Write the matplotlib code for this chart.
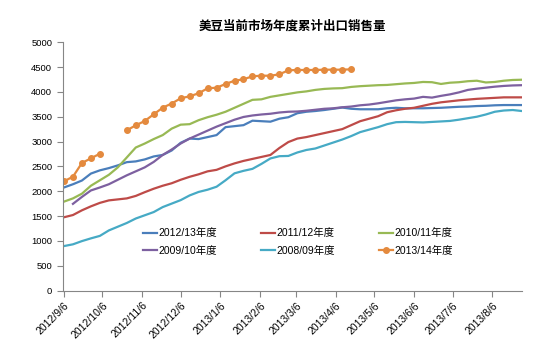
import numpy as np
import pandas as pd
import matplotlib
matplotlib.use("Agg")
import matplotlib.pyplot as plt
import matplotlib.dates as mdates
from matplotlib.ticker import FuncFormatter

plt.rcParams['font.family'] = ['Liberation Sans', 'Noto Sans CJK SC']

# 每周累计出口销售量（万吨），市场年度自9月起
weeks = pd.date_range('2012-09-06', periods=52, freq='7D')

s2012 = [2075, 2140, 2215, 2355, 2420, 2465, 2520, 2585, 2600, 2640, 2700, 2730, 2820,
         2975, 3060, 3050, 3090, 3130, 3290, 3310, 3330, 3420, 3410, 3400, 3460, 3490,
         3570, 3600, 3615, 3635, 3660, 3685, 3660, 3650, 3650, 3650, 3670, 3680, 3670,
         3670, 3670, 3675, 3680, 3690, 3700, 3705, 3715, 3720, 3730, 3735, 3735, 3735]
s2011 = [1475, 1520, 1615, 1695, 1765, 1815, 1835, 1855, 1905, 1980, 2050, 2110, 2160,
         2230, 2290, 2340, 2400, 2430, 2500, 2560, 2610, 2650, 2690, 2730, 2870, 2990,
         3060, 3090, 3130, 3170, 3210, 3250, 3330, 3410, 3460, 3510, 3590, 3630, 3660,
         3680, 3720, 3760, 3790, 3810, 3830, 3845, 3860, 3870, 3880, 3890, 3890, 3890]
s2010 = [1790, 1855, 1950, 2110, 2220, 2330, 2480, 2680, 2880, 2960, 3050, 3130, 3260,
         3340, 3350, 3430, 3490, 3540, 3600, 3680, 3760, 3840, 3850, 3900, 3930, 3960,
         3990, 4010, 4040, 4060, 4070, 4075, 4100, 4115, 4125, 4135, 4140, 4155, 4170,
         4180, 4200, 4195, 4160, 4185, 4195, 4215, 4225, 4190, 4200, 4225, 4240, 4245]
s2009 = [None, 1745, 1885, 2015, 2075, 2140, 2230, 2320, 2400, 2480, 2590, 2730, 2840,
         2960, 3060, 3140, 3220, 3300, 3370, 3440, 3495, 3525, 3545, 3560, 3585, 3600,
         3605, 3620, 3640, 3660, 3670, 3690, 3705, 3730, 3745, 3770, 3800, 3830, 3850,
         3865, 3900, 3885, 3920, 3950, 3990, 4040, 4065, 4085, 4105, 4120, 4130, 4135]
s2008 = [895, 930, 995, 1050, 1100, 1210, 1285, 1360, 1450, 1515, 1580, 1680, 1750,
         1820, 1915, 1985, 2030, 2090, 2220, 2360, 2410, 2450, 2550, 2660, 2705, 2710,
         2780, 2830, 2860, 2920, 2980, 3040, 3110, 3190, 3240, 3290, 3350, 3390, 3395,
         3390, 3385, 3395, 3405, 3415, 3440, 3470, 3500, 3545, 3600, 3625, 3635, 3615]
# 2013/14年度（10月政府停摆期间两周无数据）
s2013 = [2199, 2292, 2568, 2662, 2755, None, None, 3226, 3327, 3414, 3549, 3682, 3766,
         3871, 3911, 3972, 4072, 4084, 4159, 4225, 4254, 4314, 4326, 4326, 4354, 4435,
         4441, 4441, 4441, 4447, 4447, 4447, 4455]

def arr(v):
    return np.array([np.nan if x is None else x for x in v], dtype=float)

fig = plt.figure(figsize=(5.39, 3.52), dpi=100)
ax = fig.add_axes([0.1163, 0.1747, 0.968 - 0.1163, 0.880 - 0.1747])

lw = 1.6
l1, = ax.plot(weeks, arr(s2012), color='#4A7EBB', lw=lw, label='2012/13年度')
l2, = ax.plot(weeks, arr(s2011), color='#BE4B48', lw=lw, label='2011/12年度')
l3, = ax.plot(weeks, arr(s2010), color='#98B954', lw=lw, label='2010/11年度')
l4, = ax.plot(weeks, arr(s2009), color='#7D60A0', lw=lw, label='2009/10年度')
l5, = ax.plot(weeks, arr(s2008), color='#46AAC5', lw=lw, label='2008/09年度')
l6, = ax.plot(weeks[:len(s2013)], arr(s2013), color='#E48A3E', lw=lw, marker='o',
              markersize=4, label='2013/14年度')

ax.set_ylim(0, 5000)
ax.set_yticks(range(0, 5001, 500))
ax.set_xlim(pd.Timestamp('2012-09-05'), pd.Timestamp('2013-08-29'))
ax.xaxis.set_major_locator(mdates.MonthLocator(bymonthday=6))
ax.xaxis.set_major_formatter(FuncFormatter(
    lambda v, pos: (lambda d: f"{d.year}/{d.month}/{d.day}")(mdates.num2date(v))))

for sp in ['top', 'right']:
    ax.spines[sp].set_visible(False)
for sp in ['left', 'bottom']:
    ax.spines[sp].set_color('#868686')
    ax.spines[sp].set_linewidth(0.8)
ax.tick_params(axis='both', colors='#868686', labelcolor='black', length=4, width=0.8)
ax.tick_params(axis='y', labelsize=6.8)
ax.tick_params(axis='x', labelsize=7.5, pad=3)
for lab in ax.get_xticklabels():
    lab.set_rotation(45)
    lab.set_ha('right')
    lab.set_rotation_mode('anchor')

ax.set_title('美豆当前市场年度累计出口销售量', fontsize=9, fontweight='bold',
             family=['Noto Sans CJK SC'], pad=9)

ax.legend(handles=[l1, l4, l2, l5, l3, l6], ncol=3, loc='center',
          bbox_to_anchor=(0.512, 0.195), frameon=False, fontsize=7.5,
          handlelength=1.4, handletextpad=0.1, columnspacing=4.2, labelspacing=0.7)

fig.savefig('out.png', dpi=100)
